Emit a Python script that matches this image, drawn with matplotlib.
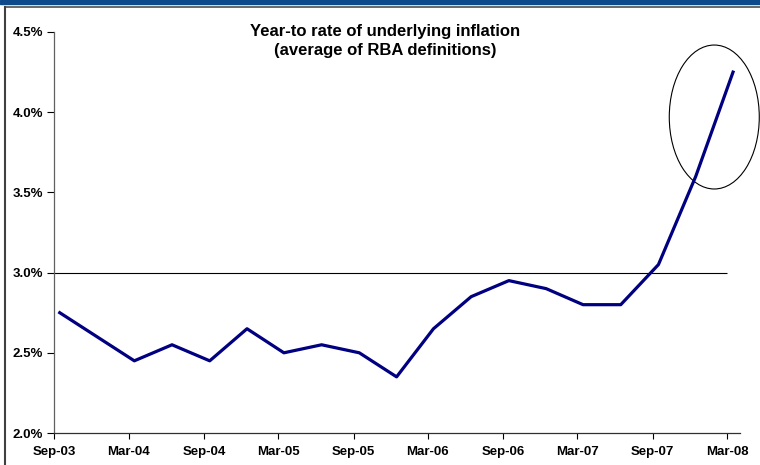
import datetime as dt
import matplotlib
matplotlib.use("Agg")
import matplotlib.pyplot as plt
from matplotlib.patches import Ellipse, Rectangle
from matplotlib.lines import Line2D
from matplotlib.ticker import FuncFormatter

# quarterly data, year-to rate of underlying inflation (%)
quarters = ["Sep-03", "Dec-03", "Mar-04", "Jun-04", "Sep-04", "Dec-04", "Mar-05",
            "Jun-05", "Sep-05", "Dec-05", "Mar-06", "Jun-06", "Sep-06", "Dec-06",
            "Mar-07", "Jun-07", "Sep-07", "Dec-07", "Mar-08"]
inflation = [2.75, 2.6, 2.45, 2.55, 2.45, 2.65, 2.5, 2.55, 2.5, 2.35, 2.65,
             2.85, 2.95, 2.9, 2.8, 2.8, 3.05, 3.6, 4.25]
tick_labels = ["Sep-03", "Mar-04", "Sep-04", "Mar-05", "Sep-05", "Mar-06",
               "Sep-06", "Mar-07", "Sep-07", "Mar-08"]
threshold = 3.0

plt.rcParams['font.family'] = ['Liberation Sans', 'DejaVu Sans']

# data sits mid-month, ticks on the first of the month
dates = [dt.datetime.strptime(q, "%b-%y").replace(day=15) for q in quarters]
tick_dates = [dt.datetime.strptime(t, "%b-%y") for t in tick_labels]

fig = plt.figure(figsize=(7.6, 4.65), dpi=100)
ax = fig.add_axes([54 / 760, 32 / 465, 686 / 760, 401 / 465])

# page decoration: blue band on top, grey frame
fig.patches.append(Rectangle((0, 1 - 4 / 465), 1, 4 / 465, transform=fig.transFigure,
                             color="#0d4a8c", zorder=0))
fig.lines.append(Line2D([5 / 760, 5 / 760], [0, 1 - 7 / 465], transform=fig.transFigure,
                        color="#404040", lw=1.5))
fig.lines.append(Line2D([5 / 760, 1], [1 - 7 / 465, 1 - 7 / 465], transform=fig.transFigure,
                        color="#404040", lw=1.1))

ax.hlines(threshold, tick_dates[0], tick_dates[-1], color="black", lw=0.8, zorder=2)
ax.plot(dates, inflation, color="#000080", lw=2.3, zorder=3)

ax.add_patch(Ellipse((0.9625, 0.788), 0.1312, 0.359, transform=ax.transAxes,
                     fill=False, edgecolor="black", lw=0.8, clip_on=False))

ax.set_xlim(dt.datetime(2003, 9, 1), dt.datetime(2008, 4, 1))
ax.set_ylim(2.0, 4.5)
ax.set_xticks(tick_dates)
ax.set_xticklabels(tick_labels)
ax.set_yticks([2.0, 2.5, 3.0, 3.5, 4.0, 4.5])
ax.yaxis.set_major_formatter(FuncFormatter(lambda v, p: "%.1f%%" % v))

for lab in ax.get_xticklabels() + ax.get_yticklabels():
    lab.set_fontweight("bold")
    lab.set_fontsize(9.5)
ax.tick_params(axis="y", direction="out", length=5, width=0.8, pad=3)
ax.tick_params(axis="x", direction="out", length=4, width=0.8, pad=5)

ax.spines["top"].set_visible(False)
ax.spines["right"].set_visible(False)
ax.spines["left"].set_color("#606060")
ax.spines["bottom"].set_color("#303030")
ax.spines["left"].set_linewidth(0.9)
ax.spines["bottom"].set_linewidth(0.9)

fig.text(385 / 760, 1 - 41 / 465,
         "Year-to rate of underlying inflation\n(average of RBA definitions)",
         ha="center", va="center", fontsize=12, fontweight="bold", linespacing=1.38)

fig.savefig("out.png", dpi=100)
